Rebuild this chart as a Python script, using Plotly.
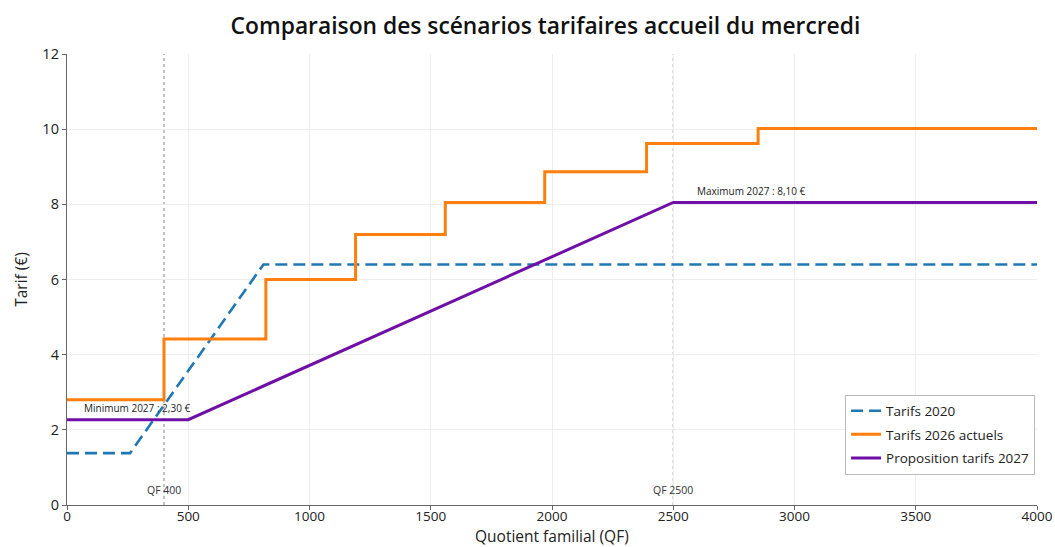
import plotly.graph_objects as go

# Data
qf_2020 = [0, 260, 810, 4000]
tarif_2020 = [1.38, 1.38, 6.40, 6.40]

qf_2026_bounds = [0, 400, 820, 1190, 1560, 1970, 2390, 2850, 4000]
tarif_2026_levels = [2.80, 4.42, 6.00, 7.20, 8.05, 8.87, 9.62, 10.02]

qf_2027 = [0, 500, 2500, 4000]
tarif_2027 = [2.27, 2.27, 8.05, 8.05]

ref_lines = [400, 2500]
ref_labels = ["QF 400", "QF 2500"]

# build step series for 2026 (horizontal-vertical steps)
x26, y26 = [], []
for i, lvl in enumerate(tarif_2026_levels):
    x26 += [qf_2026_bounds[i], qf_2026_bounds[i + 1]]
    y26 += [lvl, lvl]

fig = go.Figure()
fig.add_trace(go.Scatter(x=qf_2020, y=tarif_2020, mode="lines", name="Tarifs 2020", legendgroup="a",
                         line=dict(color="#1f77b4", width=2.6, dash="12px,6px")))
fig.add_trace(go.Scatter(x=x26, y=y26, mode="lines", name="Tarifs 2026 actuels", legendgroup="b",
                         line=dict(color="#ff7f0e", width=3)))
fig.add_trace(go.Scatter(x=qf_2027, y=tarif_2027, mode="lines", name="Proposition tarifs 2027", legendgroup="c",
                         line=dict(color="#6f0fa6", width=3)))

for xv, lab in zip(ref_lines, ref_labels):
    fig.add_shape(type="line", x0=xv, x1=xv, y0=0, y1=12, xref="x", yref="y",
                  line=dict(color="#9a9a9a", width=1.2, dash="dot"), layer="below")
    fig.add_annotation(x=xv, y=0.15, text=lab, showarrow=False, xanchor="center", yanchor="bottom",
                       font=dict(size=10.5, color="#333333"))

fig.add_annotation(x=60, y=2.33, text="Minimum 2027 : 2,30 €", showarrow=False,
                   xanchor="left", yanchor="bottom", font=dict(size=10, color="#222222"))
fig.add_annotation(x=2590, y=8.12, text="Maximum 2027 : 8,10 €", showarrow=False,
                   xanchor="left", yanchor="bottom", font=dict(size=10, color="#222222"))

# x-axis title placed explicitly below the tick labels
fig.add_annotation(x=0.5, y=-0.0685, xref="paper", yref="paper", text="Quotient familial (QF)",
                   showarrow=False, xanchor="center", yanchor="middle", borderpad=0,
                   font=dict(size=15.5, color="#222222"))

fig.update_layout(
    width=1055, height=547,
    margin=dict(l=67, r=18, t=54, b=42, autoexpand=False),
    paper_bgcolor="white", plot_bgcolor="white",
    font=dict(family="Open Sans, sans-serif", color="#222222"),
    title=dict(text="Comparaison des scénarios tarifaires accueil du mercredi",
               x=0.517, xanchor="center", y=0.953, yanchor="middle",
               font=dict(size=22.8, color="#111111", weight=600)),
    legend=dict(x=0.998, y=0.245, xanchor="right", yanchor="top",
                bordercolor="#bbbbbb", borderwidth=1, bgcolor="white",
                font=dict(size=13.5, color="#222222"), tracegroupgap=3),
    showlegend=True,
)
fig.update_xaxes(range=[0, 4000], tickvals=[0, 500, 1000, 1500, 2000, 2500, 3000, 3500, 4000],
                 automargin=False,
                 showgrid=True, gridcolor="#eeeeee", zeroline=False,
                 showline=True, linecolor="#666666", linewidth=1.3,
                 ticks="outside", ticklen=4, tickcolor="#666666",
                 ticklabelstandoff=-5,
                 tickfont=dict(size=13.5))
fig.update_yaxes(range=[0, 12], tickvals=[0, 2, 4, 6, 8, 10, 12],
                 automargin=False,
                 showgrid=True, gridcolor="#eeeeee", zeroline=False,
                 showline=True, linecolor="#666666", linewidth=1.3,
                 ticks="outside", ticklen=4, tickcolor="#666666",
                 tickfont=dict(size=14.5),
                 title=dict(text="Tarif (€)", font=dict(size=15.5), standoff=10))

fig.write_html("out.html", config={"displayModeBar": False},
               post_script="document.body.style.margin='0px';document.body.style.overflow='hidden';")
